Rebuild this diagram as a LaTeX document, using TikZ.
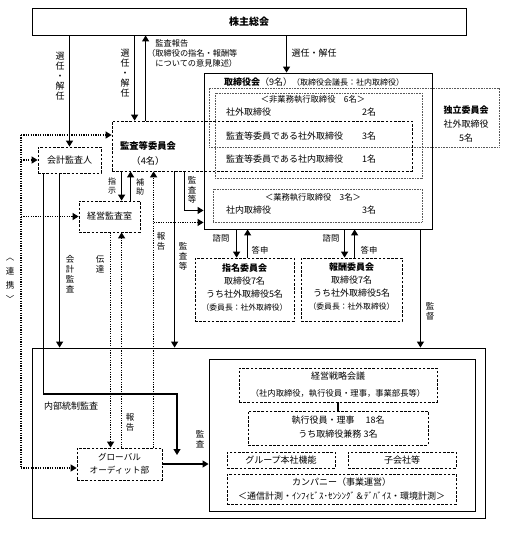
\documentclass[tikz,border=0pt]{standalone}
\usepackage{fontspec}
\setmainfont{Noto Sans CJK JP}
\usetikzlibrary{arrows.meta,calc}
\newcommand\myfs[2]{\fontsize{#1}{#2}\selectfont}
\begin{document}
\begin{tikzpicture}[x=1pt,y=-1pt,
  solidbox/.style={draw,line width=0.9pt,inner sep=0pt},
  dashbox/.style={draw,line width=0.8pt,dash pattern=on 2.6pt off 1.6pt,inner sep=0pt},
  finebox/.style={draw,black!65,line width=0.6pt,dash pattern=on 0.8pt off 0.8pt,inner sep=0pt},
  arr/.style={line width=1.2pt,-{Triangle[length=6pt,width=7pt]}},
  dotarr/.style={line width=1.2pt,dash pattern=on 1.2pt off 1.2pt,-{Triangle[length=6pt,width=7pt]}},
  dotline/.style={line width=1.2pt,dash pattern=on 1.2pt off 1.2pt},
  txt/.style={inner sep=0pt,font=\myfs{9}{13}},
  stxt/.style={inner sep=0pt,font=\myfs{8.3}{13}},
  vlab/.style={inner sep=0pt,align=center,font=\myfs{8.5}{10}},
]
\fill[white] (0,0) rectangle (524,533);
\useasboundingbox (0,0) rectangle (524,533);

% ---------- boxes ----------
\node[solidbox,minimum width=434,minimum height=27,font=\myfs{10}{12}\bfseries] (sh) at (249,21.5) {株主総会};
\node[solidbox,minimum width=228,minimum height=156] (board) at (318,151) {};
\node[finebox,minimum width=290,minimum height=59] (indep) at (354,117.5) {};
\node[finebox,minimum width=207,minimum height=85] (nonexec) at (318.5,135.5) {};
\node[dashbox,minimum width=300,minimum height=50] (audit) at (262,146) {};
\node[finebox,minimum width=209,minimum height=33] (exec) at (317.5,205.5) {};
\node[dashbox,minimum width=63,minimum height=26,font=\myfs{9}{12}] (kaikei) at (69.5,160) {会計監査人};
\node[dashbox,minimum width=61,minimum height=31,font=\myfs{9}{12}] (keiei) at (109.5,216.5) {経営監査室};
\node[dashbox,minimum width=99,minimum height=63] (shimei) at (244.5,289.5) {};
\node[dashbox,minimum width=101,minimum height=63] (hoshu) at (351.5,289.5) {};
\node[solidbox,minimum width=453,minimum height=170] (big) at (258.5,433) {};
\node[solidbox,minimum width=266,minimum height=152] (mgmt) at (342,435) {};
\node[dashbox,minimum width=198,minimum height=34] (senryaku) at (338,385) {};
\node[dashbox,minimum width=180,minimum height=34] (shikko) at (338,428) {};
\node[dashbox,minimum width=108,minimum height=16,font=\myfs{9}{12}] (group) at (281,460) {グループ本社機能};
\node[dashbox,minimum width=108,minimum height=16,font=\myfs{9}{12}] (kogaisha) at (402,460) {子会社等};
\node[dashbox,minimum width=229,minimum height=30] (company) at (341.5,489) {};
\node[dashbox,minimum width=85,minimum height=32,align=center,font=\myfs{8.6}{13}] (ga) at (119.5,464) {グローバル\\オーディット部};

% ---------- texts in boxes ----------
\node[txt,anchor=west] (tboard) at (224,82) {{\bfseries 取締役会}（9名）{\myfs{8}{10}（取締役会議長：社内取締役）}};
\node[stxt] (tnon) at (313,99) {＜非業務執行取締役　6名＞};
\node[txt,anchor=west] (r1) at (226,112) {社外取締役};
\node[txt,anchor=west] (r1n) at (362,112) {2名};
\node[txt,anchor=west] (r2) at (226,136) {監査等委員である社外取締役};
\node[txt,anchor=west] (r2n) at (362,136) {3名};
\node[txt,anchor=west] (r3) at (226,159) {監査等委員である社内取締役};
\node[txt,anchor=west] (r3n) at (362,159) {1名};
\node[stxt] (texec) at (313,197) {＜業務執行取締役　3名＞};
\node[txt,anchor=west] (r4) at (226,210) {社内取締役};
\node[txt,anchor=west] (r4n) at (362,210) {3名};
\node[txt,align=center,font=\myfs{9}{14}] (tindep) at (466,124) {{\bfseries 独立委員会}\\社外取締役\\5名};
\node[txt,align=center,font=\myfs{9.3}{15}] (taudit) at (148,153) {{\bfseries 監査等委員会}\\（4名）};
\node[txt,align=center,font=\myfs{9}{13}] (tshimei) at (244.5,287) {{\bfseries 指名委員会}\\取締役7名\\うち社外取締役5名\\{\myfs{7.8}{13}（委員長：社外取締役）}};
\node[txt,align=center,font=\myfs{9}{13}] (thoshu) at (351.5,287) {{\bfseries 報酬委員会}\\取締役7名\\うち社外取締役5名\\{\myfs{7.8}{13}（委員長：社外取締役）}};
\node[txt,align=center,font=\myfs{9}{17}] (tsen) at (338,384.5) {経営戦略会議\\{\myfs{8.3}{17}（社内取締役，執行役員・理事，事業部長等）}};
\node[txt,align=center,font=\myfs{9}{14}] (tshi) at (338,427) {執行役員・理事　 18名\\うち取締役兼務 3名};
\node[txt,align=center,font=\myfs{9}{14}] (tcomp) at (341.5,489) {カンパニー（事業運営）\\＜通信計測・ｲﾝﾌｨﾋﾞｽ･ｾﾝｼﾝｸﾞ＆ﾃﾞﾊﾞｲｽ・環境計測＞};

% ---------- coordinates ----------
\coordinate (a1) at ([xshift=23pt]audit.north west);
\coordinate (a2) at ([xshift=34pt]audit.north west);
\coordinate (b1) at ([xshift=83pt]board.north west);
\coordinate (c1) at ([xshift=43pt]keiei.north west);
\coordinate (c2) at ([xshift=52pt]keiei.north west);
\coordinate (d1) at ([xshift=73pt]audit.south west);
\coordinate (d2) at ([yshift=19pt]board.south west);
\coordinate (e1) at ([xshift=77pt]ga.north west);
\coordinate (e2) at ([yshift=7pt]board.south west);
\coordinate (f1) at ([xshift=63pt]audit.south west);
\coordinate (g1) at ([xshift=22pt]kaikei.south west);
\coordinate (h1) at ([xshift=6pt]kaikei.south west);
\coordinate (h2) at (177,394);
\coordinate (h3) at (177,455);
\coordinate (i1) at ([xshift=32pt]keiei.south west);
\coordinate (i2) at ([xshift=43pt]keiei.south west);
\coordinate (j1) at ([xshift=42pt]shimei.north west);
\coordinate (j2) at ([xshift=53pt]shimei.north west);
\coordinate (m1) at ([xshift=44pt]hoshu.north west);
\coordinate (m2) at ([xshift=54pt]hoshu.north west);
\coordinate (k1) at ([xshift=-12pt]board.south east);
\coordinate (L1) at (21,135);
\coordinate (L2) at (21,468);

% ---------- connectors ----------
\draw[arr] (kaikei.north |- sh.south) -- (kaikei.north);
\draw[arr] (a1 |- sh.south) -- (a1);
\draw[arr] (a2) -- (a2 |- sh.south);
\draw[arr] (b1 |- sh.south) -- (b1);
\draw[arr] (c1 |- audit.south) -- (c1);
\draw[arr] (c2) -- (c2 |- audit.south);
\draw[arr] (d1) |- (d2);
\draw[dotarr] (e1) -- (e1 |- audit.south);
\draw[dotarr] (e1 |- e2) -- (e2);
\draw[arr] (f1) -- (f1 |- big.north);
\draw[arr] (g1) -- (g1 |- big.north);
\draw[arr] (h1) |- (h2) -- (h3);
\draw[arr] (ga.east) -- (ga.east -| mgmt.west);
\draw[dotarr] (i1) -- (i1 |- ga.north);
\draw[dotarr] (i2 |- ga.north) -- (i2);
\draw[dotline] (L1) -- (L2);
\draw[dotarr] (L1) -- (L1 -| audit.west);
\draw[dotarr] (kaikei.west -| L1) -- (kaikei.west);
\draw[dotarr] (keiei.west -| L1) -- (keiei.west);
\draw[dotarr] (L2) -- (L2 -| ga.west);
\draw[arr] (j1 |- board.south) -- (j1);
\draw[arr] (j2) -- (j2 |- board.south);
\draw[arr] (m1 |- board.south) -- (m1);
\draw[arr] (m2) -- (m2 |- board.south);
\draw[arr] (k1) -- (k1 |- big.north);
\draw[line width=1.2pt] (senryaku.south) -- (shikko.north);

% ---------- labels ----------
\node[vlab,font=\myfs{9}{10}] (l1) at (60,76) {選\\任\\・\\解\\任};
\node[vlab,font=\myfs{9}{10}] (l2) at (125,73) {選\\任\\・\\解\\任};
\node[txt,anchor=west,align=left,font=\myfs{8.2}{10}] (l3) at (147,53) {\hspace*{1em}監査報告\\（取締役の指名・報酬等\\\hspace*{1em}についての意見陳述）};
\node[txt] (l4) at (314,53) {選任・解任};
\node[vlab,font=\myfs{8}{8.5}] (l5) at (112,186) {指\\示};
\node[vlab,font=\myfs{8}{8.5}] (l6) at (140,187) {補\\助};
\node[vlab,font=\myfs{8.5}{9.5}] (l7) at (192,190) {監\\査\\等};
\node[vlab] (l8) at (161,241) {報\\告};
\node[vlab] (l9) at (183,256) {監\\査\\等};
\node[vlab] (l10) at (70,274) {会\\計\\監\\査};
\node[vlab] (l11) at (100,264) {伝\\達};
\node[vlab] (l12) at (130,422) {報\\告};
\node[vlab] (l13) at (200,439) {監\\査};
\node[vlab] (l14) at (430,311) {監\\督};
\node[vlab,font=\myfs{8.5}{14}] (l15) at (10,280) {︿\\連\\携\\﹀};
\node[txt,anchor=west] (l16) at (44,406) {内部統制監査};
\node[stxt] (l17) at (221,238) {諮問};
\node[stxt] (l18) at (260,250) {答申};
\node[stxt] (l19) at (331,238) {諮問};
\node[stxt] (l20) at (369,250) {答申};
\end{tikzpicture}
\end{document}
